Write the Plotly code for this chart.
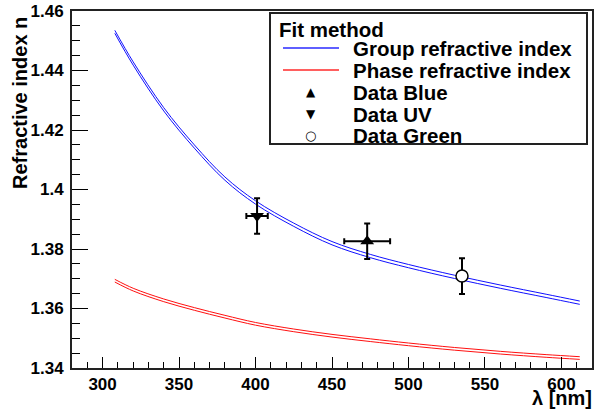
import plotly.graph_objects as go

# ---------------- data ----------------
wl = [308, 320, 340, 360, 380, 400, 425, 450, 475, 500, 530, 560, 590, 612]
group_upper = [1.4535, 1.4429, 1.4275, 1.4150, 1.4042, 1.3962, 1.3887, 1.3825, 1.3782,
               1.3748, 1.3712, 1.3679, 1.3648, 1.3625]
group_lower = [1.4525, 1.4418, 1.4264, 1.4139, 1.4031, 1.3951, 1.3876, 1.3814, 1.3771,
               1.3737, 1.3701, 1.3668, 1.3637, 1.3614]
phase_upper = [1.3698, 1.3668, 1.3632, 1.3603, 1.3577, 1.3553, 1.3531, 1.3513, 1.3498,
               1.3484, 1.3469, 1.3456, 1.3445, 1.3438]
phase_lower = [1.3689, 1.3659, 1.3623, 1.3594, 1.3568, 1.3544, 1.3522, 1.3504, 1.3489,
               1.3475, 1.3460, 1.3447, 1.3436, 1.3429]

blue_wl, blue_n, blue_wl_err, blue_n_err = [473], [1.3826], [15], [0.006]
uv_wl, uv_n, uv_wl_err, uv_n_err = [401], [1.3911], [7], [0.006]
green_wl, green_n, green_n_err = [535], [1.3709], [0.006]

y_tickvals = [1.34, 1.36, 1.38, 1.40, 1.42, 1.44, 1.46]
y_ticktext = ["1.34", "1.36", "1.38", "1.4", "1.42", "1.44", "1.46"]
x_tickvals = [300, 350, 400, 450, 500, 550, 600]
x_ticktext = ["300", "350", "400", "450", "500", "550", "600"]

legend_title = "Fit method"
legend_labels = ["Group refractive index", "Phase refractive index",
                 "Data Blue", "Data UV", "Data Green"]

# ---------------- geometry helpers ----------------
W, H = 610, 410
L, R, T, B = 72, 592, 11, 368
def px(x):
    return (x - L) / (R - L)
def py(y):
    return (B - y) / (B - T)

FONT = "Liberation Sans, Arial, Helvetica, sans-serif"
BLUE = "#1010ff"
RED = "#ff1010"

fig = go.Figure()
for ys in (group_upper, group_lower):
    fig.add_trace(go.Scatter(x=wl, y=ys, mode="lines", line=dict(color=BLUE, width=1, shape="spline"),
                             showlegend=False, hoverinfo="skip"))
for ys in (phase_upper, phase_lower):
    fig.add_trace(go.Scatter(x=wl, y=ys, mode="lines", line=dict(color=RED, width=1, shape="spline"),
                             showlegend=False, hoverinfo="skip"))

err_style = dict(type="data", color="black", thickness=2, width=3)
fig.add_trace(go.Scatter(x=blue_wl, y=blue_n, mode="markers",
                         marker=dict(symbol="triangle-up", size=12, color="black"),
                         error_x=dict(array=blue_wl_err, **err_style),
                         error_y=dict(array=blue_n_err, **err_style), showlegend=False))
fig.add_trace(go.Scatter(x=uv_wl, y=uv_n, mode="markers",
                         marker=dict(symbol="triangle-down", size=12, color="black"),
                         error_x=dict(array=uv_wl_err, **err_style),
                         error_y=dict(array=uv_n_err, **err_style), showlegend=False))
fig.add_trace(go.Scatter(x=green_wl, y=green_n, mode="markers",
                         marker=dict(symbol="circle", size=12, color="white",
                                     line=dict(color="black", width=1.5)),
                         error_y=dict(array=green_n_err, **err_style), showlegend=False))

shapes = []
annotations = []

# legend box
shapes.append(dict(type="rect", xref="paper", yref="paper",
                   x0=px(270), x1=px(587), y0=py(144), y1=py(13),
                   line=dict(color="#222", width=2), fillcolor="white", layer="above"))
annotations.append(dict(xref="paper", yref="paper", x=px(277), y=py(29), text=legend_title,
                        showarrow=False, xanchor="left", yanchor="middle",
                        font=dict(family=FONT, size=20.5, color="black", weight="bold")))
rows_y = [49, 71, 93, 114.5, 135.5]
for lab, yy in zip(legend_labels, rows_y):
    annotations.append(dict(xref="paper", yref="paper", x=px(351), y=py(yy), text=lab,
                            showarrow=False, xanchor="left", yanchor="middle",
                            font=dict(family=FONT, size=20.5, color="black", weight="bold")))
shapes.append(dict(type="line", xref="paper", yref="paper", x0=px(283), x1=px(339),
                   y0=py(48), y1=py(48), line=dict(color="#2a2aff", width=1.4), layer="above"))
shapes.append(dict(type="line", xref="paper", yref="paper", x0=px(283), x1=px(339),
                   y0=py(70), y1=py(70), line=dict(color="#ff2a2a", width=1.4), layer="above"))
for sym, yy, sz in [("▲", 92, 12), ("▼", 114, 12), ("○", 135, 13)]:
    annotations.append(dict(xref="paper", yref="paper", x=px(310.5), y=py(yy), text=sym,
                            showarrow=False, xanchor="center", yanchor="middle",
                            font=dict(family="DejaVu Sans", size=sz, color="black")))

# axis titles
annotations.append(dict(xref="paper", yref="paper", x=px(20), y=py(15), text="Refractive index n",
                        textangle=-90, showarrow=False, xanchor="center", yanchor="top",
                        font=dict(family=FONT, size=20, color="black", weight="bold")))
annotations.append(dict(xref="paper", yref="paper", x=px(593), y=py(410), text="λ [nm]",
                        showarrow=False, xanchor="right", yanchor="bottom", borderpad=0,
                        font=dict(family=FONT, size=20, color="black", weight="bold")))

fig.update_layout(
    width=W, height=H,
    margin=dict(l=L, r=W - R, t=T, b=H - B, autoexpand=False),
    paper_bgcolor="white", plot_bgcolor="white",
    shapes=shapes, annotations=annotations, showlegend=False,
    xaxis=dict(range=[280, 620], tickvals=x_tickvals, ticktext=x_ticktext, automargin=False,
               ticks="inside", ticklen=11, tickwidth=1, tickcolor="black",
               minor=dict(dtick=10, tick0=300, ticks="inside", ticklen=6, tickcolor="black", tickwidth=1),
               showgrid=False, zeroline=False, showline=True, linecolor="#222", linewidth=2,
               mirror=True, tickfont=dict(family=FONT, size=17, color="black", weight="bold"),
               ticklabelstandoff=0),
    yaxis=dict(range=[1.34, 1.46], tickvals=y_tickvals, ticktext=y_ticktext, automargin=False,
               ticks="inside", ticklen=16, tickwidth=1, tickcolor="black",
               minor=dict(dtick=0.005, tick0=1.34, ticks="inside", ticklen=8, tickcolor="black", tickwidth=1),
               showgrid=False, zeroline=False, showline=True, linecolor="#222", linewidth=2,
               mirror=True, tickfont=dict(family=FONT, size=17, color="black", weight="bold"),
               ticklabelstandoff=3),
)

fig.write_html("out.html")
